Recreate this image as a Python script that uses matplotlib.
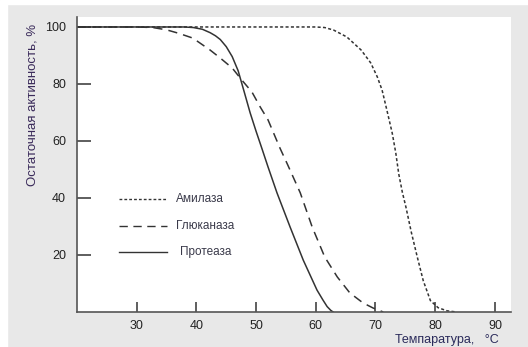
import matplotlib
matplotlib.use("Agg")
import matplotlib.pyplot as plt
from matplotlib.patches import Rectangle

# Data
amylase_t = [20, 40, 60, 61.5, 63, 65.2, 67.6, 69.2, 70.3, 71.1, 71.9, 72.8, 73.4, 73.9,
             74.5, 75.1, 76.0, 77.0, 78.0, 79.2, 80.5, 82.0, 83.6]
amylase_v = [100, 100, 100, 99.8, 98.9, 96.5, 91.9, 87.4, 82.5, 77.9, 70.9, 62.8, 55.8, 48.4,
             42.0, 36.8, 28.0, 19.3, 11.0, 4.0, 1.5, 0.4, 0.0]

glucanase_t = [20, 30, 32.7, 35, 37, 39.4, 42.3, 44.0, 46.0, 47.6, 49.3, 50.7, 52.0, 54.0, 55.3,
               57.4, 59.4, 61.5, 63.6, 65.7, 67.9, 69.6, 71.3]
glucanase_v = [100, 100, 99.8, 99.0, 97.8, 96.1, 91.9, 89.1, 85.6, 81.4, 77.2, 71.9, 67.4, 57.5, 51.6,
               41.8, 29.8, 19.3, 12.3, 6.7, 3.2, 1.4, 0.0]

protease_t = [20, 38, 39.5, 41, 42.3, 43.2, 44, 45, 46, 47, 48, 49, 50, 51, 52.0, 53.5,
              55.7, 57.9, 60.2, 61.2, 61.9, 62.5, 62.9]
protease_v = [100, 100, 99.8, 99.2, 98.0, 96.9, 95.6, 93.1, 89.6, 84.6, 77.3, 69.9, 63.4, 57.2, 50.9, 41.8,
              29.8, 18.2, 7.7, 4.2, 1.9, 0.6, 0.0]

x_ticks = [30, 40, 50, 60, 70, 80, 90]
y_ticks = [20, 40, 60, 80, 100]
legend_labels = ["Амилаза", "Глюканаза", "Протеаза"]

plt.rcParams['font.family'] = ['Liberation Sans', 'DejaVu Sans']

fig = plt.figure(figsize=(5.28, 3.47), dpi=100)
fig.patch.set_facecolor('#e8e8e8')
# white outer strips (left and top)
fig.patches.append(Rectangle((0, 0), 7/528, 1, transform=fig.transFigure, color='white', zorder=0))
fig.patches.append(Rectangle((0, 1-4/347), 1, 4/347, transform=fig.transFigure, color='white', zorder=0))

ax = fig.add_axes([77/528, (347-312)/347, (511-77)/528, (312-17)/347])
ax.set_facecolor('white')
ax.set_xlim(20, 92.7)
ax.set_ylim(0, 103.5)

lc = '#333333'
ax.plot(amylase_t, amylase_v, color=lc, lw=1.1, linestyle=(0, (2, 1.5)))
ax.plot(glucanase_t, glucanase_v, color=lc, lw=1.1, linestyle=(0, (6, 4)))
ax.plot(protease_t, protease_v, color=lc, lw=1.1, linestyle='-')

for s in ['top', 'right']:
    ax.spines[s].set_visible(False)
for s in ['left', 'bottom']:
    ax.spines[s].set_color('#555555')
    ax.spines[s].set_linewidth(1.2)

ax.set_xticks(x_ticks)
ax.set_yticks(y_ticks)
ax.tick_params(axis='x', direction='in', length=7, width=1.1, color='#333333',
               labelsize=9, labelcolor='#222222', pad=6)
ax.tick_params(axis='y', direction='in', length=10, width=1.1, color='#333333',
               labelsize=9, labelcolor='#222222', pad=8)

# Legend drawn manually in axes data coordinates
leg_y = [39.5, 30, 21]
styles = [(0, (2, 1.5)), (0, (6, 4)), '-']
for y, st, lab in zip(leg_y, styles, legend_labels):
    ax.plot([27, 35], [y, y], color=lc, lw=1.0, linestyle=st)
    ax.text(36.5 if lab != "Протеаза" else 37.2, y, lab, fontsize=8.5, color='#3a3a4a',
            va='center', ha='left')

fig.text(33/528, 1 - 105/347, "Остаточная активность, %", rotation=90, fontsize=9.5,
         color='#3a2a5a', ha='center', va='center')
fig.text(447/528, 1 - 340/347, "Темпаратура,   °С", fontsize=9, color='#2a2a5a',
         ha='center', va='center')

fig.savefig("out.png", dpi=100, facecolor=fig.get_facecolor())
